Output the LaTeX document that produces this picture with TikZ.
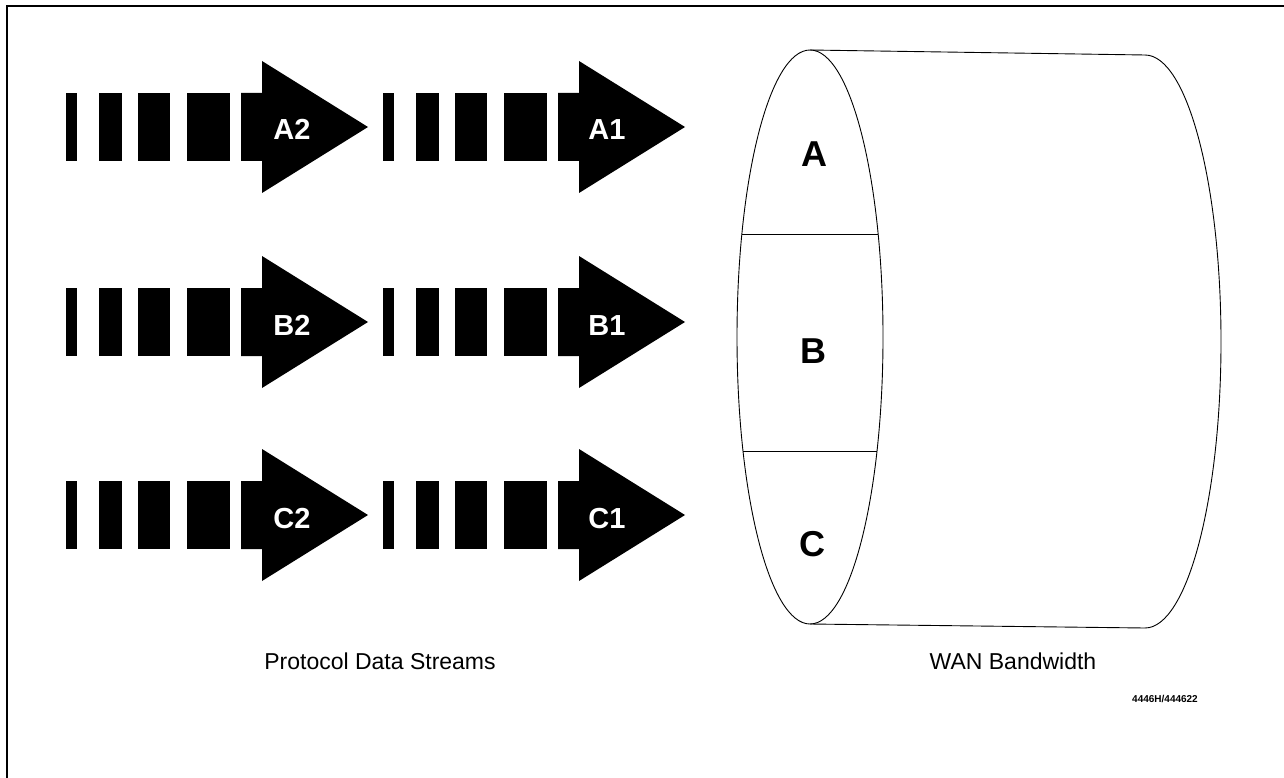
\documentclass[tikz,border=0pt]{standalone}
\usepackage{fontspec}
\setmainfont{Liberation Sans}
\begin{document}
\begin{tikzpicture}[x=1pt,y=-1pt,
  blk/.style={fill=black,draw=none},
  arrowlbl/.style={text=white,font=\fontsize{29}{32}\selectfont\bfseries,inner sep=0pt,anchor=base},
  cyllbl/.style={font=\fontsize{36}{40}\selectfont\bfseries,inner sep=0pt,anchor=base},
  caption/.style={font=\fontsize{23}{26}\selectfont,inner sep=0pt},
  tiny/.style={font=\fontsize{10}{11}\selectfont\bfseries,inner sep=0pt},
  thinline/.style={line width=0.9pt},
  stream/.pic={
    \fill[blk] (0,-34) rectangle (11,34);
    \fill[blk] (33,-34) rectangle (56,34);
    \fill[blk] (72,-34) rectangle (104,34);
    \fill[blk] (121,-34) rectangle (164,34);
    \fill[blk] (175,-34) -- (196,-34) -- (196,-66) -- (302,0) -- (196,66) -- (196,34) -- (175,34) -- cycle;
  }]
\useasboundingbox (0,0) rectangle (1284,778);
\fill[white] (0,0) rectangle (1284,778);
% frame (top and left)
\draw[line width=2pt] (7,778) -- (7,6) -- (1284,6);

% streams
\foreach \yc in {127,322,515}{
  \pic at (66,\yc) {stream};
  \pic at (383,\yc) {stream};
}
\node[arrowlbl] (a2) at (292,140) {A2};
\node[arrowlbl] (a1) at (607,140) {A1};
\node[arrowlbl] (b2) at (292,335) {B2};
\node[arrowlbl] (b1) at (607,335) {B1};
\node[arrowlbl] (c2) at (292,528) {C2};
\node[arrowlbl] (c1) at (607,528) {C1};

% cylinder
\coordinate (ft) at (810,50);
\coordinate (fb) at (810,624);
\coordinate (bt) at (1145,55);
\coordinate (bb) at (1145,628);
\draw[thinline] (810,337) ellipse [x radius=73, y radius=287];
\draw[thinline] (bt) arc [start angle=-90, end angle=90, x radius=76, y radius=286.5];
\draw[thinline] (ft) -- (bt);
\draw[thinline] (fb) -- (bb);
\coordinate (d1l) at (742,234);
\coordinate (d1r) at (878,234);
\coordinate (d2l) at (743,451);
\coordinate (d2r) at (877,451);
\draw[thinline] (d1l) -- (d1r);
\draw[thinline] (d2l) -- (d2r);
\node[cyllbl] (ca) at (814,167) {A};
\node[cyllbl] (cb) at (813,363) {B};
\node[cyllbl] (cc) at (812,556) {C};

% captions
\node[caption] (pds) at (380,661) {Protocol Data Streams};
\node[caption] (wan) at (1013,661) {WAN Bandwidth};
\node[tiny] (id) at (1165,699) {4446H/444622};
\end{tikzpicture}
\end{document}
